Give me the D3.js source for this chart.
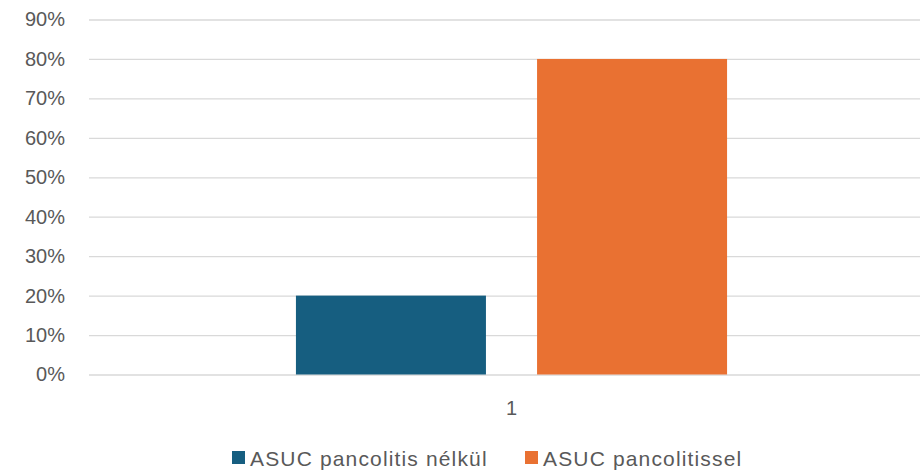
<!DOCTYPE html>
<html><head><meta charset="utf-8">
<script src="https://cdn.jsdelivr.net/npm/d3@7"></script>
<style>
html,body{margin:0;padding:0;background:#fff;}
svg{display:block;}
text{font-family:"Liberation Sans",Arial,sans-serif;fill:#595959;}
</style></head>
<body>
<svg id="chart" width="920" height="470"></svg>
<script>
const categories = ["1"];
const seriesNames = ["ASUC pancolitis nélkül", "ASUC pancolitissel"];
const seriesValues = [[0.20], [0.80]];
const colors = ["#165E80", "#E97132"];
const yTicks = [0, 0.1, 0.2, 0.3, 0.4, 0.5, 0.6, 0.7, 0.8, 0.9];

const svg = d3.select("#chart");
const plotLeft = 89, plotRight = 934, plotTop = 19.5, plotBottom = 374.5;

const y = d3.scaleLinear().domain([0, 0.9]).range([plotBottom, plotTop]);
const x0 = d3.scaleBand().domain(categories).range([plotLeft, plotRight]).paddingInner(0).paddingOuter(0.480);
const x1 = d3.scaleBand().domain(seriesNames).range([0, x0.bandwidth()]).paddingInner(0.212).paddingOuter(0);

// gridlines
const yAxis = d3.axisLeft(y).tickValues(yTicks).tickFormat(d3.format(".0%")).tickSize(-(plotRight - plotLeft)).tickPadding(24);
const gy = svg.append("g").attr("transform", `translate(${plotLeft},0)`).call(yAxis);
gy.select(".domain").remove();
gy.selectAll(".tick line").attr("stroke", "#d9d9d9").attr("stroke-width", 1.3);
gy.selectAll(".tick text").style("font-size", "20px").attr("fill", "#595959").style("font-family", "'Liberation Sans',Arial,sans-serif");

// bars
const groups = svg.append("g").selectAll("g").data(categories).join("g")
  .attr("transform", d => `translate(${x0(d)},0)`);
groups.selectAll("rect").data((d, i) => seriesNames.map((s, j) => ({s, v: seriesValues[j][i], j})))
  .join("rect")
  .attr("x", d => x1(d.s))
  .attr("y", d => y(d.v))
  .attr("width", x1.bandwidth())
  .attr("height", d => y(0) - y(d.v))
  .attr("fill", d => colors[d.j]);

// x axis
const xAxis = d3.axisBottom(x0).tickSize(0).tickPadding(26);
const gx = svg.append("g").attr("transform", `translate(0,${plotBottom})`).call(xAxis);
gx.select(".domain").remove();
gx.selectAll(".tick text").style("font-size", "20px").attr("fill", "#595959").style("font-family", "'Liberation Sans',Arial,sans-serif");

// legend
const legendX = [232, 525];
const lg = svg.append("g").selectAll("g").data(seriesNames).join("g")
  .attr("transform", (d, i) => `translate(${legendX[i]},451)`);
lg.append("rect").attr("width", 13).attr("height", 13).attr("fill", (d, i) => colors[i]);
lg.append("text").attr("x", 18).attr("y", 14.5).style("font-size", "21px").style("letter-spacing", "1.15px").text(d => d);
</script>
</body></html>
